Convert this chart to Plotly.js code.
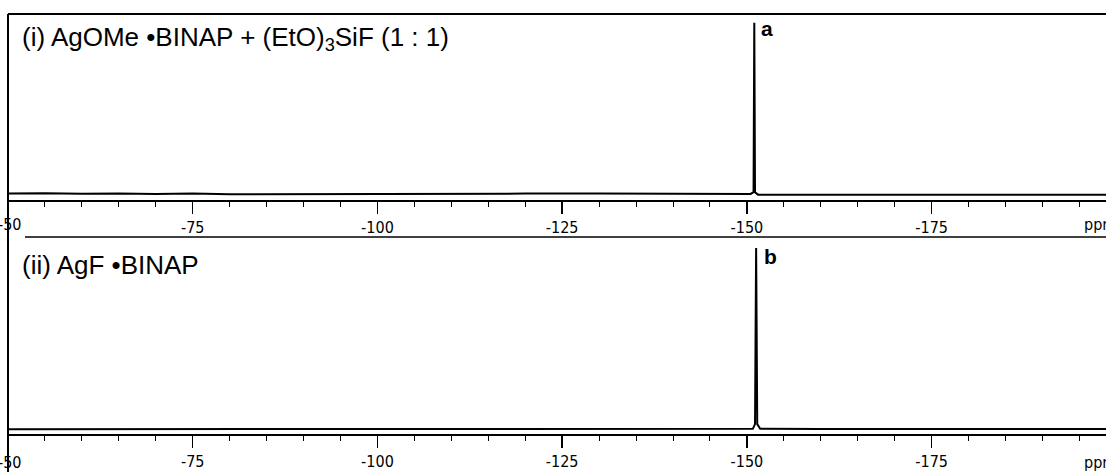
<!DOCTYPE html>
<html>
<head>
<meta charset="utf-8">
<script src="https://cdn.plot.ly/plotly-3.0.1.min.js"></script>
<style>html,body{margin:0;padding:0;background:#fff}#chart{width:1106px;height:472px}</style>
</head>
<body>
<div id="chart"></div>
<script>
// Spectrum (i): AgOMe•BINAP + (EtO)3SiF (1:1) — chemical shift (ppm) vs relative intensity
const shiftA = [-50, -55, -60, -65, -70, -75, -80, -90, -100, -110, -120, -130, -140, -145, -150.5, -150.9, -151.0, -151.1, -151.5, -160, -170, -180, -190, -198.6];
const intensityA = [0.012, 0.014, 0.011, 0.013, 0.010, 0.012, 0.008, 0.008, 0.009, 0.010, 0.012, 0.013, 0.012, 0.010, 0.010, 0.02, 1.0, 0.02, 0.006, 0.006, 0.007, 0.006, 0.007, 0.006];

// Spectrum (ii): AgF•BINAP
const shiftB = [-50, -60, -75, -100, -125, -140, -150.8, -151.1, -151.25, -151.4, -151.8, -160, -175, -198.6];
const intensityB = [0.004, 0.004, 0.004, 0.004, 0.004, 0.004, 0.006, 0.03, 0.92, 0.03, 0.006, 0.005, 0.005, 0.005];

// Axis tick labels
const tickValues = [-75, -100, -125, -150, -175];
const tickLabels = ['-75', '-100', '-125', '-150', '-175'];
const edgeLabel = '-50';
const unitLabel = 'ppm';

// Panel labels
const labelA = '(i) AgOMe •BINAP + (EtO)<sub>3</sub>SiF (1 : 1)';
const labelB = '(ii) AgF •BINAP';
const tagA = '<b>a</b>';
const tagB = '<b>b</b>';

const H = 472, W = 1106;
const py = v => 1 - v / H;   // pixel-from-top to paper fraction
const px = v => v / W;
const xRange = [-50, -198.6];

const tickFont = {family: 'DejaVu Sans Condensed, Liberation Sans Narrow, sans-serif', size: 16, color: '#000'};
const xAxisBase = {
  range: xRange, showgrid: false, zeroline: false,
  showline: true, linecolor: '#000', linewidth: 1.5,
  ticks: 'outside', ticklen: 12, tickwidth: 1.5, tickcolor: '#000',
  tickmode: 'array', tickvals: [-50].concat(tickValues), ticktext: [''].concat(tickLabels),
  tickfont: tickFont,
  minor: {dtick: 5, tick0: -50, ticks: 'outside', ticklen: 5, tickwidth: 1, tickcolor: '#000'}
};

const traces = [
  {x: shiftA, y: intensityA, xaxis: 'x', yaxis: 'y', mode: 'lines', line: {color: '#000', width: 2}, hoverinfo: 'skip'},
  {x: shiftB, y: intensityB, xaxis: 'x2', yaxis: 'y2', mode: 'lines', line: {color: '#000', width: 2}, hoverinfo: 'skip'}
];

const labelFont = {family: 'Liberation Sans, Arial, sans-serif', size: 26, color: '#000'};
const tagFont = {family: 'Liberation Sans, Arial, sans-serif', size: 21, color: '#000'};

const layout = {
  width: W, height: H,
  margin: {l: 0, r: 0, t: 0, b: 0},
  paper_bgcolor: '#fff', plot_bgcolor: 'rgba(0,0,0,0)',
  showlegend: false,
  xaxis: Object.assign({}, xAxisBase, {domain: [px(8), 1], anchor: 'y'}),
  yaxis: {domain: [py(200), py(14)], range: [-0.025, 1.05], visible: false, anchor: 'x'},
  xaxis2: Object.assign({}, xAxisBase, {domain: [px(8), 1], anchor: 'y2'}),
  yaxis2: {domain: [py(434), py(237)], range: [-0.02, 0.975], visible: false, anchor: 'x2'},
  shapes: [
    {type: 'line', xref: 'paper', yref: 'paper', x0: px(8), x1: 1, y0: py(14), y1: py(14), line: {color: '#000', width: 2}},
    {type: 'line', xref: 'paper', yref: 'paper', x0: px(8), x1: px(8), y0: 0, y1: py(14), line: {color: '#000', width: 2}},
    {type: 'line', xref: 'paper', yref: 'paper', x0: px(25), x1: 1, y0: py(237), y1: py(237), line: {color: '#000', width: 1.5}}
  ],
  annotations: [
    {xref: 'paper', yref: 'paper', x: px(20), y: py(38), xanchor: 'left', yanchor: 'middle', text: labelA, showarrow: false, font: labelFont},
    {xref: 'paper', yref: 'paper', x: px(20), y: py(265), xanchor: 'left', yanchor: 'middle', text: labelB, showarrow: false, font: labelFont},
    {xref: 'paper', yref: 'paper', x: px(759), y: py(29), xanchor: 'left', yanchor: 'middle', text: tagA, showarrow: false, font: tagFont},
    {xref: 'paper', yref: 'paper', x: px(762), y: py(256), xanchor: 'left', yanchor: 'middle', text: tagB, showarrow: false, font: tagFont},
    {xref: 'paper', yref: 'paper', x: px(1082), y: py(224), xanchor: 'left', yanchor: 'middle', text: unitLabel, showarrow: false, font: tickFont},
    {xref: 'paper', yref: 'paper', x: px(1082), y: py(462), xanchor: 'left', yanchor: 'middle', text: unitLabel, showarrow: false, font: tickFont},
    {xref: 'paper', yref: 'paper', x: px(-4), y: py(224), xanchor: 'left', yanchor: 'middle', text: edgeLabel, showarrow: false, font: tickFont},
    {xref: 'paper', yref: 'paper', x: px(-4), y: py(462), xanchor: 'left', yanchor: 'middle', text: edgeLabel, showarrow: false, font: tickFont}
  ]
};

Plotly.newPlot('chart', traces, layout, {displayModeBar: false, staticPlot: true});
</script>
</body>
</html>
